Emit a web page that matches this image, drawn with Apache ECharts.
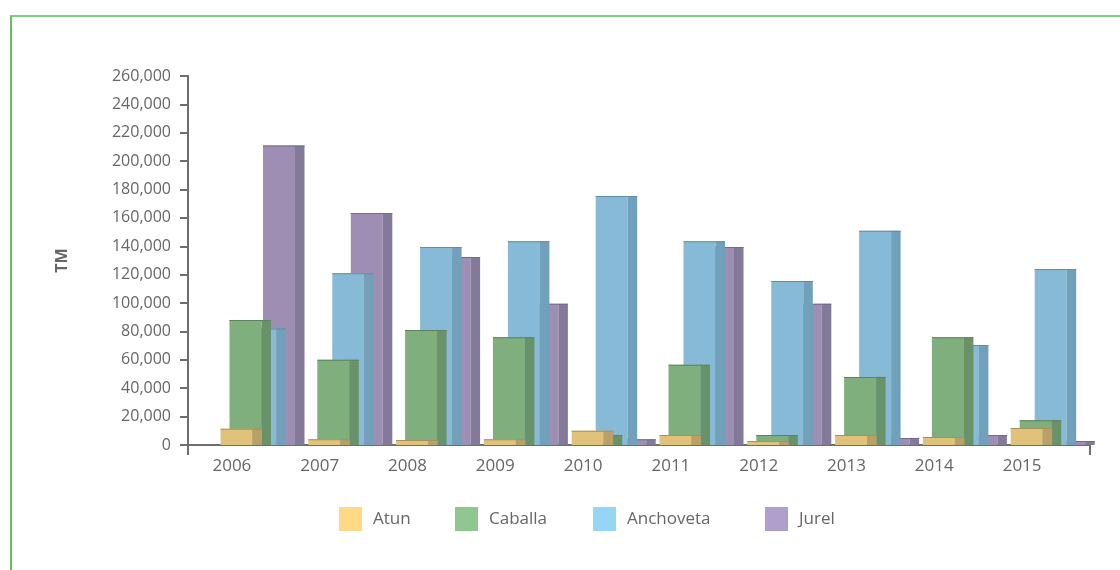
<!DOCTYPE html>
<html>
<head>
<meta charset="utf-8">
<script src="https://cdn.jsdelivr.net/npm/echarts@6/dist/echarts.min.js"></script>
<style>
  html, body { margin: 0; padding: 0; background: #fff; }
  #wrap { position: relative; width: 1120px; height: 570px; }
  #chart { position: absolute; left: 0; top: 0; width: 1120px; height: 570px; }
  /* marco verde de la lámina */
  #frame {
    position: absolute; left: 10px; top: 15px; right: 0; bottom: 0;
    border-top: 2px solid #7fcd7f; border-left: 2px solid #5cc35c;
    pointer-events: none;
  }
</style>
</head>
<body>
<div id="wrap">
  <div id="chart"></div>
  <div id="frame"></div>
</div>
<script>
// ---- datos (TM) ----
const years = ["2006", "2007", "2008", "2009", "2010", "2011", "2012", "2013", "2014", "2015"];
const atun = [11500, 4000, 3500, 4000, 10000, 7000, 2800, 7000, 5600, 12000];
const caballa = [88000, 60000, 81000, 76000, 7000, 56500, 7000, 48000, 76000, 17500];
const anchoveta = [82000, 121000, 139500, 143500, 175500, 143500, 115500, 151000, 70500, 124000];
const jurel = [211000, 163500, 132500, 99500, 4000, 139500, 99500, 5000, 7000, 2800];
const seriesNames = ["Atun", "Caballa", "Anchoveta", "Jurel"];
const yTicks = { min: 0, max: 260000, step: 20000 };
// --------------------

const axisGray = "#6e6e6e";
const textGray = "#666";
const font = "Open Sans";

// aspecto de cada serie: desplazamiento dentro de la categoría (px sobre 87.8), colores, posición en leyenda
const looks = {
  Atun: { offset: 32.5, legend: "#ffd985", front: "#e0c27a", side: "#b8a068", edge: "#a8905a", z: 5, legendLeft: 339 },
  Caballa: { offset: 41.5, legend: "#90c690", front: "#7eaf7d", side: "#68926a", edge: "#5c835e", z: 4, legendLeft: 455 },
  Anchoveta: { offset: 56.5, legend: "#95d5f5", front: "#86bad6", side: "#70a0ba", edge: "#5f8ea6", z: 3, legendLeft: 593 },
  Jurel: { offset: 75, legend: "#b09fcb", front: "#9f8eb4", side: "#837a99", edge: "#746b89", z: 2, legendLeft: 765 },
};

// barra "3D": cara frontal + lateral oscura + filo superior
function makeRender(look) {
  return function (params, api) {
    const i = api.value(0);
    const v = api.value(1);
    const base = api.coord([i, 0]);
    const top = api.coord([i, v]);
    const band = api.size([1, 0])[0];
    const k = band / 87.8;
    const x0 = base[0] - band / 2 + look.offset * k;
    const fw = 32 * k;
    const sw = 9.5 * k;
    const h = base[1] - top[1];
    return {
      type: "group",
      children: [
        { type: "rect", shape: { x: x0, y: top[1], width: fw, height: h }, style: { fill: look.front } },
        { type: "rect", shape: { x: x0 + fw, y: top[1], width: sw, height: h }, style: { fill: look.side } },
        { type: "rect", shape: { x: x0, y: top[1], width: fw + sw, height: 1 }, style: { fill: look.edge } },
      ],
    };
  };
}

function makeSeries(name, values) {
  const look = looks[name];
  return {
    name: name,
    type: "custom",
    xAxisIndex: 0,
    yAxisIndex: 0,
    z: look.z,
    itemStyle: { color: look.legend },
    encode: { x: 0, y: 1 },
    renderItem: makeRender(look),
    data: values.map((v, i) => [i, v]),
  };
}

// una leyenda por serie para fijar su posición
const legends = seriesNames.map((name) => ({
  data: [name],
  left: looks[name].legendLeft,
  bottom: 39,
  padding: 0,
  icon: "rect",
  itemWidth: 23,
  itemHeight: 24,
  textStyle: { fontSize: 17, color: textGray, fontFamily: font, padding: [0, 0, 0, 6] },
}));

const chart = echarts.init(document.getElementById("chart"));
chart.setOption({
  animation: false,
  textStyle: { fontFamily: font },
  grid: [
    { left: 188, right: 54, top: 76, bottom: 125 },
    // sólo para prolongar la línea del eje X hasta el final
    { left: 188, right: 30, top: 76, bottom: 125 },
  ],
  legend: legends,
  xAxis: [
    {
      type: "category",
      gridIndex: 0,
      data: years,
      axisLine: { lineStyle: { color: axisGray, width: 2 } },
      axisTick: { length: 10, lineStyle: { color: axisGray, width: 2 } },
      axisLabel: { color: textGray, fontSize: 17, margin: 13, fontFamily: font },
    },
    {
      type: "value",
      gridIndex: 1,
      min: 0,
      max: 1,
      interval: 1,
      axisLine: { lineStyle: { color: axisGray, width: 2 } },
      axisTick: { length: 10, lineStyle: { color: axisGray, width: 2 } },
      axisLabel: { show: false },
      splitLine: { show: false },
    },
  ],
  yAxis: [
    {
      type: "value",
      gridIndex: 0,
      min: yTicks.min,
      max: yTicks.max,
      interval: yTicks.step,
      name: "TM",
      nameLocation: "middle",
      nameRotate: 90,
      nameGap: 118,
      nameTextStyle: { color: textGray, fontSize: 16, fontWeight: "bold", fontFamily: font },
      axisLine: { show: true, lineStyle: { color: axisGray, width: 2 } },
      axisTick: { show: true, length: 8, lineStyle: { color: axisGray, width: 2 } },
      axisLabel: {
        color: textGray,
        fontSize: 16,
        margin: 17,
        fontFamily: font,
        formatter: (v) => v.toLocaleString("en-US"),
      },
      splitLine: { show: false },
    },
    { type: "value", gridIndex: 1, show: false },
  ],
  series: [
    makeSeries("Atun", atun),
    makeSeries("Caballa", caballa),
    makeSeries("Anchoveta", anchoveta),
    makeSeries("Jurel", jurel),
  ],
});
</script>
</body>
</html>
